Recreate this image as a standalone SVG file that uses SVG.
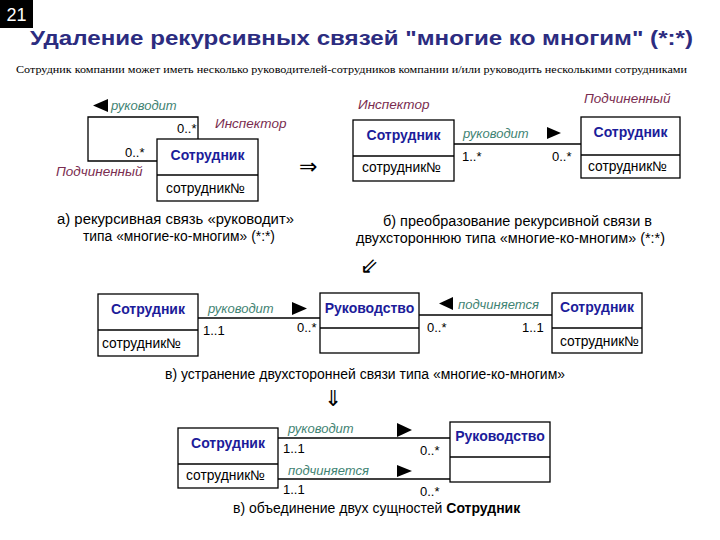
<svg xmlns="http://www.w3.org/2000/svg" width="720" height="540" viewBox="0 0 720 540">
<style>
text{font-family:"Liberation Sans",Arial,sans-serif}
.box{fill:#ffffff;stroke:#000;stroke-width:1.3}
.div{stroke:#000;stroke-width:1.3}
.ent{font-weight:bold;font-size:14px;fill:#1c1c9a;text-anchor:middle}
.attr{font-size:14px;fill:#000}
.mult{font-size:13px;fill:#000}
.rel{font-style:italic;font-size:13px;fill:#3f8373}
.role{font-style:italic;font-size:13.5px;fill:#7a2d50}
.cap{font-size:14px;fill:#000}
.line{stroke:#000;stroke-width:1.3;fill:none}
.tri{fill:#000}
.sym{font-size:22px;fill:#000;font-family:"DejaVu Sans",sans-serif}
</style>
<rect width="720" height="540" fill="#fff"/>
<rect x="0" y="0" width="33" height="28" fill="#000"/>
<text x="16.5" y="21" font-size="18" fill="#fff" text-anchor="middle">21</text>
<text x="30" y="45" font-size="21" font-weight="bold" fill="#2c2c80" textLength="663" lengthAdjust="spacingAndGlyphs">Удаление рекурсивных связей "многие ко многим" (*:*)</text>
<text x="16" y="73" font-size="11" fill="#000" style="font-family:'Liberation Serif','Times New Roman',serif" textLength="671" lengthAdjust="spacingAndGlyphs">Сотрудник компании может иметь несколько руководителей-сотрудников компании и/или руководить несколькими сотрудниками</text>

<g id="connectors">
  <!-- a) recursive loop -->
  <polyline class="line" points="198,139 198,117 88,117 88,161 157,161"/>
  <polygon class="tri" points="93,105.5 108,99 108,112"/>
  <!-- б) -->
  <line class="line" x1="454" y1="144" x2="581" y2="144"/>
  <polygon class="tri" points="547,127 561,133 547,139"/>
  <!-- в) устранение -->
  <line class="line" x1="198" y1="318" x2="320" y2="318"/>
  <polygon class="tri" points="292,302 307,308.5 292,315"/>
  <line class="line" x1="419" y1="315" x2="552" y2="315"/>
  <polygon class="tri" points="439,303.5 453,297 453,310"/>
  <!-- в) объединение -->
  <line class="line" x1="278" y1="438" x2="450" y2="438"/>
  <polygon class="tri" points="397,423 412,430 397,437"/>
  <line class="line" x1="278" y1="479" x2="450" y2="479"/>
  <polygon class="tri" points="397,465 412,471 397,477"/>
</g>

<!-- a) -->
<g id="node-a-emp">
  <rect class="box" x="157" y="139" width="101" height="62"/>
  <line class="div" x1="157" y1="175" x2="258" y2="175"/>
  <text class="ent" x="207.5" y="160">Сотрудник</text>
  <text class="attr" x="166" y="193" textLength="79" lengthAdjust="spacingAndGlyphs">сотрудник№</text>
</g>
<g id="labels-a">
  <text class="rel" x="111" y="110">руководит</text>
  <text class="mult" x="177" y="133">0..*</text>
  <text class="mult" x="125" y="157">0..*</text>
  <text class="role" x="215" y="128">Инспектор</text>
  <text class="role" x="56" y="176">Подчиненный</text>
  <text class="cap" x="57" y="224" textLength="237" lengthAdjust="spacingAndGlyphs">а) рекурсивная связь «руководит»</text>
  <text class="cap" x="83" y="241" textLength="192" lengthAdjust="spacingAndGlyphs">типа «многие-ко-многим» (*:*)</text>
</g>
<text class="sym" x="299" y="174">⇒</text>

<!-- б) -->
<g id="node-b-insp">
  <rect class="box" x="353" y="120" width="101" height="61"/>
  <line class="div" x1="353" y1="156" x2="454" y2="156"/>
  <text class="ent" x="403.5" y="140">Сотрудник</text>
  <text class="attr" x="362" y="172" textLength="79" lengthAdjust="spacingAndGlyphs">сотрудник№</text>
</g>
<g id="node-b-sub">
  <rect class="box" x="581" y="117" width="99" height="61"/>
  <line class="div" x1="581" y1="155" x2="680" y2="155"/>
  <text class="ent" x="630.5" y="137">Сотрудник</text>
  <text class="attr" x="588" y="171" textLength="79" lengthAdjust="spacingAndGlyphs">сотрудник№</text>
</g>
<g id="labels-b">
  <text class="role" x="358" y="109">Инспектор</text>
  <text class="role" x="584" y="103">Подчиненный</text>
  <text class="rel" x="463" y="138">руководит</text>
  <text class="mult" x="462" y="161">1..*</text>
  <text class="mult" x="552" y="161">0..*</text>
  <text class="cap" x="383" y="226" textLength="269" lengthAdjust="spacingAndGlyphs">б) преобразование рекурсивной связи в</text>
  <text class="cap" x="356" y="243" textLength="309" lengthAdjust="spacingAndGlyphs">двухстороннюю типа «многие-ко-многим» (*:*)</text>
</g>
<text class="sym" x="360" y="273">⇙</text>

<!-- в) устранение -->
<g id="node-c-emp1">
  <rect class="box" x="98" y="294" width="100" height="62"/>
  <line class="div" x1="98" y1="330" x2="198" y2="330"/>
  <text class="ent" x="148" y="314">Сотрудник</text>
  <text class="attr" x="102" y="348" textLength="79" lengthAdjust="spacingAndGlyphs">сотрудник№</text>
</g>
<g id="node-c-mgmt">
  <rect class="box" x="320" y="293" width="99" height="60"/>
  <line class="div" x1="320" y1="328" x2="419" y2="328"/>
  <text class="ent" x="369.5" y="313">Руководство</text>
</g>
<g id="node-c-emp2">
  <rect class="box" x="552" y="293" width="90" height="60"/>
  <line class="div" x1="552" y1="328" x2="642" y2="328"/>
  <text class="ent" x="597" y="312">Сотрудник</text>
  <text class="attr" x="560" y="346" textLength="79" lengthAdjust="spacingAndGlyphs">сотрудник№</text>
</g>
<g id="labels-c">
  <text class="rel" x="208" y="313">руководит</text>
  <text class="mult" x="203" y="335">1..1</text>
  <text class="mult" x="297" y="332">0..*</text>
  <text class="rel" x="458" y="309">подчиняется</text>
  <text class="mult" x="427" y="332">0..*</text>
  <text class="mult" x="522" y="332">1..1</text>
  <text class="cap" x="165" y="379" textLength="400" lengthAdjust="spacingAndGlyphs">в) устранение двухсторонней связи типа «многие-ко-многим»</text>
</g>
<text class="sym" x="324" y="406">⇓</text>

<!-- в) объединение -->
<g id="node-d-emp">
  <rect class="box" x="178" y="428" width="100" height="60"/>
  <line class="div" x1="178" y1="464" x2="278" y2="464"/>
  <text class="ent" x="228" y="448">Сотрудник</text>
  <text class="attr" x="186" y="480" textLength="79" lengthAdjust="spacingAndGlyphs">сотрудник№</text>
</g>
<g id="node-d-mgmt">
  <rect class="box" x="450" y="422" width="100" height="60"/>
  <line class="div" x1="450" y1="457" x2="550" y2="457"/>
  <text class="ent" x="500" y="441">Руководство</text>
</g>
<g id="labels-d">
  <text class="rel" x="288" y="433">руководит</text>
  <text class="mult" x="283" y="453">1..1</text>
  <text class="mult" x="420" y="455">0..*</text>
  <text class="rel" x="288" y="475">подчиняется</text>
  <text class="mult" x="283" y="494">1..1</text>
  <text class="mult" x="420" y="496">0..*</text>
  <text class="cap" x="233" y="513">в) объединение двух сущностей <tspan font-weight="bold">Сотрудник</tspan></text>
</g>
</svg>
